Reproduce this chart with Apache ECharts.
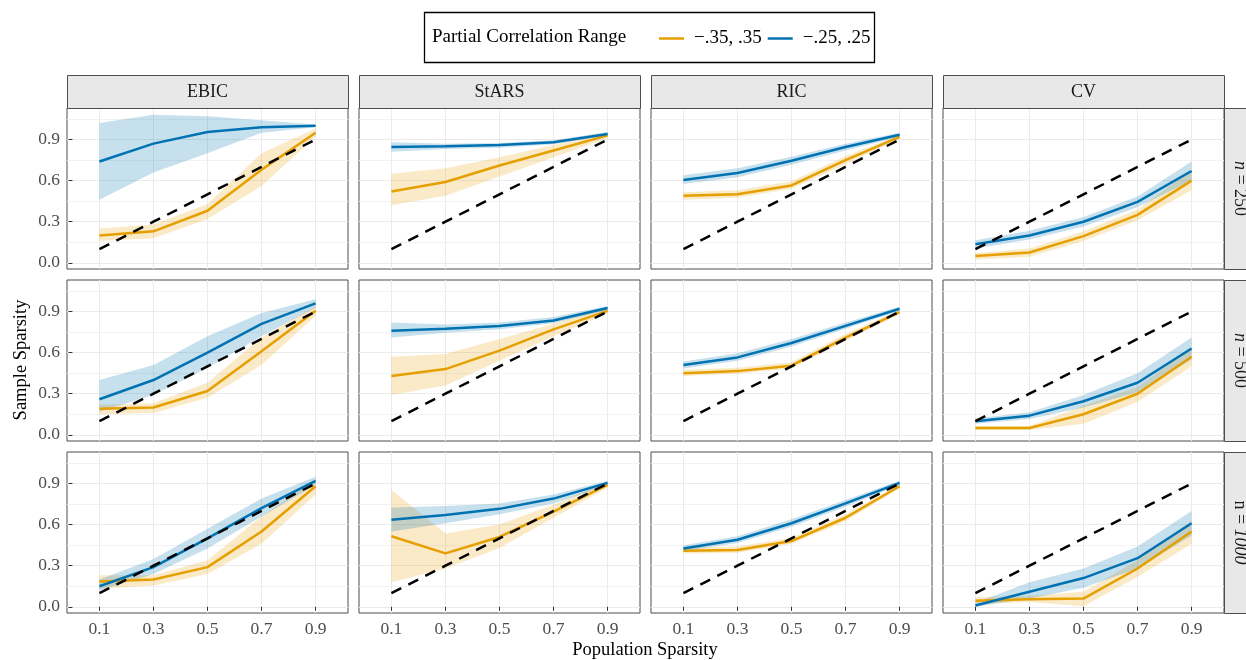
<!DOCTYPE html>
<html><head><meta charset="utf-8">
<script src="https://cdn.jsdelivr.net/npm/echarts@6/dist/echarts.min.js"></script>
<style>html,body{margin:0;padding:0;background:#fff}#c{width:1246px;height:660px}</style>
</head><body><div id="c"></div>
<script>
// ---------- data ----------
const popSparsity = [0.1, 0.3, 0.5, 0.7, 0.9];
const identityLine = [0.1, 0.3, 0.5, 0.7, 0.9];
const methods = ['EBIC', 'StARS', 'RIC', 'CV'];
const sampleSizes = ['250', '500', '1000'];
const rangeNames = ['\u2212.35, .35', '\u2212.25, .25'];
const yTickValues = [0, 0.3, 0.6, 0.9];
const yMinorValues = [0.15, 0.45, 0.75, 1.05];

// range -.35,.35 (orange): per sample size, rows = EBIC, StARS, RIC, CV
const mean35_n250 = [[0.20,0.23,0.38,0.68,0.95],[0.52,0.59,0.71,0.82,0.93],[0.49,0.50,0.565,0.75,0.92],[0.05,0.075,0.195,0.35,0.60]];
const lo35_n250   = [[0.16,0.18,0.32,0.56,0.92],[0.42,0.49,0.63,0.77,0.91],[0.46,0.475,0.54,0.72,0.905],[0.025,0.045,0.16,0.31,0.53]];
const hi35_n250   = [[0.25,0.28,0.43,0.80,0.98],[0.65,0.69,0.77,0.86,0.95],[0.515,0.53,0.595,0.78,0.935],[0.07,0.105,0.23,0.39,0.675]];
const mean35_n500 = [[0.19,0.20,0.32,0.61,0.905],[0.43,0.48,0.615,0.77,0.905],[0.45,0.465,0.505,0.71,0.895],[0.05,0.05,0.15,0.30,0.57]];
const lo35_n500   = [[0.15,0.16,0.27,0.51,0.87],[0.29,0.36,0.54,0.72,0.885],[0.43,0.445,0.485,0.685,0.88],[0.035,0.035,0.08,0.24,0.50]];
const hi35_n500   = [[0.22,0.23,0.38,0.71,0.94],[0.57,0.59,0.70,0.81,0.93],[0.475,0.49,0.53,0.735,0.91],[0.065,0.065,0.21,0.35,0.64]];
const mean35_n1000 = [[0.185,0.20,0.29,0.55,0.88],[0.515,0.39,0.51,0.695,0.89],[0.41,0.415,0.48,0.65,0.88],[0.045,0.055,0.06,0.28,0.55]];
const lo35_n1000   = [[0.13,0.155,0.24,0.46,0.82],[0.18,0.28,0.43,0.65,0.87],[0.39,0.395,0.46,0.625,0.865],[0.02,0.035,0.005,0.22,0.46]];
const hi35_n1000   = [[0.23,0.23,0.34,0.66,0.93],[0.855,0.535,0.60,0.745,0.915],[0.435,0.44,0.505,0.675,0.895],[0.07,0.08,0.11,0.34,0.63]];

// range -.25,.25 (blue)
const mean25_n250 = [[0.74,0.87,0.955,0.99,1.0],[0.845,0.85,0.86,0.88,0.94],[0.605,0.655,0.745,0.845,0.935],[0.135,0.20,0.30,0.445,0.67]];
const lo25_n250   = [[0.46,0.66,0.80,0.95,0.99],[0.81,0.83,0.84,0.865,0.93],[0.575,0.625,0.715,0.82,0.92],[0.105,0.17,0.265,0.405,0.60]];
const hi25_n250   = [[1.02,1.08,1.07,1.04,1.01],[0.88,0.87,0.875,0.895,0.955],[0.64,0.69,0.775,0.87,0.95],[0.165,0.235,0.335,0.485,0.74]];
const mean25_n500 = [[0.26,0.40,0.60,0.81,0.96],[0.76,0.775,0.795,0.835,0.925],[0.51,0.565,0.67,0.795,0.92],[0.10,0.14,0.245,0.38,0.63]];
const lo25_n500   = [[0.17,0.29,0.49,0.72,0.93],[0.71,0.745,0.77,0.815,0.91],[0.485,0.54,0.645,0.775,0.905],[0.08,0.115,0.20,0.31,0.55]];
const hi25_n500   = [[0.40,0.51,0.72,0.89,0.99],[0.82,0.805,0.82,0.86,0.94],[0.535,0.595,0.70,0.82,0.935],[0.12,0.165,0.29,0.45,0.71]];
const mean25_n1000 = [[0.15,0.29,0.50,0.72,0.92],[0.635,0.67,0.715,0.79,0.905],[0.425,0.49,0.61,0.755,0.905],[0.01,0.11,0.21,0.355,0.61]];
const lo25_n1000   = [[0.12,0.24,0.425,0.66,0.89],[0.55,0.61,0.675,0.755,0.885],[0.405,0.465,0.585,0.73,0.89],[0.0,0.06,0.14,0.28,0.52]];
const hi25_n1000   = [[0.20,0.35,0.57,0.79,0.95],[0.725,0.735,0.755,0.82,0.92],[0.45,0.515,0.64,0.78,0.92],[0.03,0.18,0.28,0.44,0.70]];

// ---------- layout / style ----------
const FONT = '"Liberation Serif", "DejaVu Serif", serif';
const ORANGE = '#E69F00', BLUE = '#0072B2';
const colLeft = [67, 359, 651, 943], panelW = 281;
const rowTop = [108, 280, 452], panelH = 161;
const stripTop = 75, stripH = 33;
const yMin = -0.045, yMax = 1.13, xMin = -0.02, xMax = 1.02;

const meanO = [mean35_n250, mean35_n500, mean35_n1000];
const loO = [lo35_n250, lo35_n500, lo35_n1000];
const hiO = [hi35_n250, hi35_n500, hi35_n1000];
const meanB = [mean25_n250, mean25_n500, mean25_n1000];
const loB = [lo25_n250, lo25_n500, lo25_n1000];
const hiB = [hi25_n250, hi25_n500, hi25_n1000];

const grids = [], xAxes = [], yAxes = [], series = [], graphics = [];

function ribbon(gi, pts, color) {
  return {
    type: 'custom', xAxisIndex: gi, yAxisIndex: gi * 2, silent: true, z: 1,
    data: pts, encode: { x: 0, y: [1, 2] },
    renderItem: function (params, api) {
      if (params.dataIndex !== 0) return null;
      const upper = pts.map(p => api.coord([p[0], p[2]]));
      const lower = pts.map(p => api.coord([p[0], p[1]])).reverse();
      return { type: 'polygon', shape: { points: upper.concat(lower) }, style: { fill: color, opacity: 0.22 } };
    }
  };
}

for (let r = 0; r < 3; r++) {
  for (let c = 0; c < 4; c++) {
    const gi = r * 4 + c;
    grids.push({ left: colLeft[c], top: rowTop[r], width: panelW, height: panelH, show: true,
      borderColor: '#4d4d4d', borderWidth: 1, backgroundColor: '#fff' });
    const bottom = r === 2;
    xAxes.push({ gridIndex: gi, type: 'value', min: xMin, max: xMax,
      axisLine: { show: false },
      axisTick: { show: bottom, length: 4, lineStyle: { color: '#333' }, customValues: popSparsity },
      axisLabel: { show: bottom, customValues: popSparsity, formatter: v => v.toFixed(1), color: '#4d4d4d', fontSize: 17.5, fontFamily: FONT, margin: 7 },
      splitLine: { show: true, lineStyle: { color: '#EBEBEB', width: 1 } } });
    const left = c === 0;
    yAxes.push({ gridIndex: gi, type: 'value', min: yMin, max: yMax, position: 'left',
      axisLine: { show: false },
      axisTick: { show: left, length: 4, lineStyle: { color: '#333' }, customValues: yTickValues },
      axisLabel: { show: left, customValues: yTickValues, formatter: v => v.toFixed(1), color: '#4d4d4d', fontSize: 17.5, fontFamily: FONT, margin: 7 },
      splitLine: { show: true, lineStyle: { color: '#EBEBEB', width: 1 } } });
    yAxes.push({ gridIndex: gi, type: 'value', min: yMin, max: yMax, position: 'left',
      axisLine: { show: false }, axisLabel: { show: false },
      axisTick: { show: false, customValues: yMinorValues },
      splitLine: { show: true, lineStyle: { color: '#F2F2F2', width: 1 } } });

    const ptsO = popSparsity.map((x, i) => [x, loO[r][c][i], hiO[r][c][i]]);
    const ptsB = popSparsity.map((x, i) => [x, loB[r][c][i], hiB[r][c][i]]);
    series.push(ribbon(gi, ptsO, ORANGE));
    series.push(ribbon(gi, ptsB, BLUE));
    series.push({ type: 'line', name: rangeNames[0], xAxisIndex: gi, yAxisIndex: gi * 2, z: 3,
      data: popSparsity.map((x, i) => [x, meanO[r][c][i]]), symbol: 'none', color: ORANGE,
      lineStyle: { color: ORANGE, width: 2.5 }, silent: true });
    series.push({ type: 'line', name: rangeNames[1], xAxisIndex: gi, yAxisIndex: gi * 2, z: 4,
      data: popSparsity.map((x, i) => [x, meanB[r][c][i]]), symbol: 'none', color: BLUE,
      lineStyle: { color: BLUE, width: 2.5 }, silent: true });
    series.push({ type: 'line', xAxisIndex: gi, yAxisIndex: gi * 2, z: 5,
      data: popSparsity.map((x, i) => [x, identityLine[i]]), symbol: 'none',
      lineStyle: { color: '#000', width: 2.5, type: [11, 8] }, silent: true });
  }
}

// strips (top)
methods.forEach((m, c) => {
  graphics.push({ type: 'rect', shape: { x: colLeft[c] + 0.5, y: stripTop + 0.5, width: panelW, height: stripH },
    style: { fill: '#E8E8E8', stroke: '#4d4d4d', lineWidth: 1 }, z: 10 });
  graphics.push({ type: 'text', x: colLeft[c] + panelW / 2, y: stripTop + stripH / 2 + 1, z: 11,
    style: { text: m, align: 'center', verticalAlign: 'middle', fontSize: 18, fontFamily: FONT, fill: '#1a1a1a' } });
});
// strips (right)
sampleSizes.forEach((n, r) => {
  graphics.push({ type: 'rect', shape: { x: 1224.5, y: rowTop[r] + 0.5, width: 34, height: panelH },
    style: { fill: '#E8E8E8', stroke: '#4d4d4d', lineWidth: 1 }, z: 10 });
  const txt = r < 2 ? '{i|n} = ' + n : 'n = {i|' + n + '}';
  graphics.push({ type: 'text', x: 1240, y: rowTop[r] + panelH / 2, rotation: -Math.PI / 2, z: 11,
    style: { text: txt, align: 'center', verticalAlign: 'middle', fontSize: 18, fontFamily: FONT, fill: '#1a1a1a',
      rich: { i: { fontStyle: 'italic', fontSize: 18, fontFamily: FONT, fill: '#1a1a1a' } } } });
});
// legend box + title
graphics.push({ type: 'rect', shape: { x: 424.5, y: 12.5, width: 450, height: 50 },
  style: { fill: 'none', stroke: '#000', lineWidth: 1.3 }, z: 10 });
graphics.push({ type: 'text', x: 432, y: 37.5, z: 11,
  style: { text: 'Partial Correlation Range', align: 'left', verticalAlign: 'middle', fontSize: 19, fontFamily: FONT, fill: '#000' } });
// axis titles
graphics.push({ type: 'text', x: 645, y: 650, z: 11,
  style: { text: 'Population Sparsity', align: 'center', verticalAlign: 'middle', fontSize: 18.5, fontFamily: FONT, fill: '#000' } });
graphics.push({ type: 'text', x: 21, y: 360, rotation: Math.PI / 2, z: 11,
  style: { text: 'Sample Sparsity', align: 'center', verticalAlign: 'middle', fontSize: 18.5, fontFamily: FONT, fill: '#000' } });

const chart = echarts.init(document.getElementById('c'), null, { renderer: 'canvas' });
chart.setOption({
  animation: false,
  backgroundColor: '#fff',
  grid: grids, xAxis: xAxes, yAxis: yAxes, series: series,
  legend: { data: rangeNames, left: 654, top: 24, icon: 'rect', itemWidth: 25, itemHeight: 2.5, itemGap: 6,
    selectedMode: false, textStyle: { fontFamily: FONT, fontSize: 19, color: '#000', padding: [0, 0, 0, 5] } },
  graphic: graphics
});
</script></body></html>
